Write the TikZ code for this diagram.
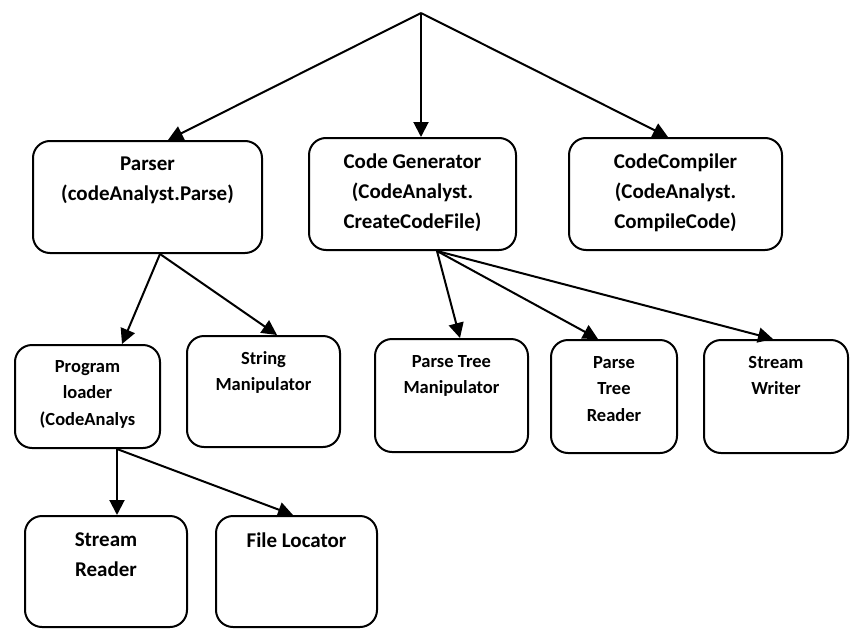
\documentclass[tikz,border=0pt]{standalone}
\usepackage{fontspec}
\setmainfont{Carlito}
\usetikzlibrary{arrows.meta}
\tikzset{
  box/.style={draw, line width=2pt, rounded corners=17pt, inner sep=0pt},
  txt/.style={anchor=north, align=center, inner sep=0pt, font=\bfseries},
  big/.style={font=\fontsize{21}{30}\selectfont\bfseries},
  small/.style={font=\fontsize{18.5}{26.5}\selectfont\bfseries},
  arr/.style={line width=2pt, -{Triangle[length=15pt,width=15pt]}}
}
\begin{document}
\begin{tikzpicture}[x=1pt,y=-1pt]
\useasboundingbox (0,0) rectangle (851,629);

\coordinate (top) at (421,13);

% first level
\node[box, minimum width=229pt, minimum height=112pt] (parser) at (147.5,197) {};
\node[box, minimum width=207pt, minimum height=112pt] (gen) at (412.5,194) {};
\node[box, minimum width=213pt, minimum height=112pt] (comp) at (675.5,194) {};
\node[txt, big] (parsertxt) at ([yshift=-17pt]parser.north) {Parser\\(codeAnalyst.Parse)};
\node[txt, big] (gentxt) at ([yshift=-17pt]gen.north) {Code Generator\\(CodeAnalyst.\\CreateCodeFile)};
\node[txt, big] (comptxt) at ([yshift=-17pt]comp.north) {CodeCompiler\\(CodeAnalyst.\\CompileCode)};

% second level
\node[box, minimum width=145pt, minimum height=103pt] (loader) at (87.5,396.5) {};
\node[box, minimum width=153pt, minimum height=111pt] (strman) at (263.5,391.5) {};
\node[box, minimum width=153pt, minimum height=113pt] (ptman) at (451.5,395.5) {};
\node[box, minimum width=126pt, minimum height=113pt] (ptread) at (614,396.5) {};
\node[box, minimum width=144pt, minimum height=113pt] (swrite) at (776,396.5) {};
\node[txt, small] (loadertxt) at ([yshift=-16pt]loader.north) {Program\\loader\\(CodeAnalys};
\node[txt, small] (strmantxt) at ([yshift=-16pt]strman.north) {String\\Manipulator};
\node[txt, small] (ptmantxt) at ([yshift=-17pt]ptman.north) {Parse Tree\\Manipulator};
\node[txt, small] (ptreadtxt) at ([yshift=-17pt]ptread.north) {Parse\\Tree\\Reader};
\node[txt, small] (swritetxt) at ([yshift=-17pt]swrite.north) {Stream\\Writer};

% third level
\node[box, minimum width=162pt, minimum height=111pt] (sread) at (106,571.5) {};
\node[box, minimum width=161pt, minimum height=111pt] (floc) at (296.5,571.5) {};
\node[txt, big] (sreadtxt) at ([yshift=-18pt]sread.north) {Stream\\Reader};
\node[txt, big] (floctxt) at ([yshift=-18pt]floc.north) {File Locator};

% connectors
\draw[arr] (top) -- (168,0 |- parser.north);
\draw[arr] (top) -- (421,0 |- gen.north);
\draw[arr] (top) -- (668,0 |- comp.north);
\draw[arr] (160,0 |- parser.south) -- (122,0 |- loader.north);
\draw[arr] (160,0 |- parser.south) -- (277,0 |- strman.north);
\draw[arr] (437,0 |- gen.south) -- (460,0 |- ptman.north);
\draw[arr] (437,0 |- gen.south) -- (598,0 |- ptread.north);
\draw[arr] (437,0 |- gen.south) -- (773,0 |- swrite.north);
\draw[arr] (117,0 |- loader.south) -- (117,0 |- sread.north);
\draw[arr] (117,0 |- loader.south) -- (293,0 |- floc.north);
\end{tikzpicture}
\end{document}
